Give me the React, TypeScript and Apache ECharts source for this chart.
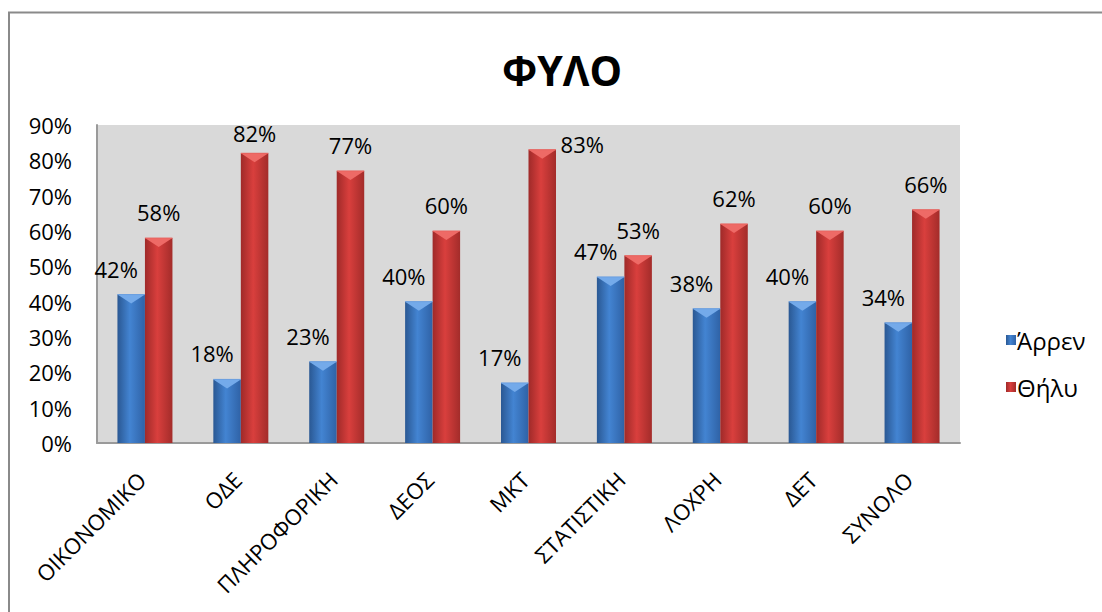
import React, { useEffect, useRef } from "react";
import * as echarts from "echarts";

const categories = ["ΟΙΚΟΝΟΜΙΚΟ", "ΟΔΕ", "ΠΛΗΡΟΦΟΡΙΚΗ", "ΔΕΟΣ", "ΜΚΤ", "ΣΤΑΤΙΣΤΙΚΗ", "ΛΟΧΡΗ", "ΔΕΤ", "ΣΥΝΟΛΟ"];
const maleValues = [42, 18, 23, 40, 17, 47, 38, 40, 34];
const femaleValues = [58, 82, 77, 60, 83, 53, 62, 60, 66];
const seriesNames = ["Άρρεν", "Θήλυ"];
const titleText = "ΦΥΛΟ";
const yMax = 90;
const yStep = 10;

const FONT = "'Open Sans', 'Noto Sans', sans-serif";
const FS = 22;
const BAR_W = 27.5;

const blueGrad = new echarts.graphic.LinearGradient(0, 0, 1, 0, [
  { offset: 0, color: "#2a5893" },
  { offset: 0.45, color: "#4384d2" },
  { offset: 1, color: "#2f62a6" },
]);
const redGrad = new echarts.graphic.LinearGradient(0, 0, 1, 0, [
  { offset: 0, color: "#9f2a29" },
  { offset: 0.45, color: "#d93f3d" },
  { offset: 1, color: "#a32c2a" },
]);

function bevel(side: number, light: string, dark: string) {
  return (params: any, api: any) => {
    const p = api.coord([api.value(0), api.value(1)]);
    const l = p[0] + (side === 0 ? -BAR_W : 0);
    const t = p[1];
    const w = BAR_W;
    return {
      type: "group",
      children: [
        {
          type: "polygon",
          shape: { points: [[l, t], [l + w, t], [l + w / 2, t + 9]] },
          style: { fill: light },
        },
        {
          type: "line",
          shape: { x1: l, y1: t, x2: l + w, y2: t },
          style: { stroke: dark, lineWidth: 1 },
        },
      ],
    };
  };
}

export default function App() {
  const ref = useRef<HTMLDivElement>(null);
  useEffect(() => {
    if (!ref.current) return;
    const chart = echarts.init(ref.current, null, { renderer: "svg" });
    const labelBase = {
      show: true,
      position: "top" as const,
      distance: 5,
      fontSize: FS,
      lineHeight: 22,
      fontFamily: FONT,
      color: "#000",
      formatter: "{c}%",
    };
    const femaleData = femaleValues.map((v, i) => {
      if (i === 4) return { value: v, label: { offset: [40, 10] } };
      if (i === 1) return { value: v, label: { offset: [0, -4] } };
      return v;
    });
    chart.setOption({
      animation: false,
      backgroundColor: "#fff",
      title: {
        text: titleText,
        left: 557,
        top: 44,
        textAlign: "center",
        textStyle: { fontSize: 41, fontWeight: "bold", fontFamily: FONT, color: "#000", lineHeight: 41 },
      },
      legend: {
        data: seriesNames,
        orient: "vertical",
        left: 1001,
        top: 323,
        itemWidth: 10,
        itemHeight: 10,
        itemGap: 23,
        icon: "rect",
        textStyle: { fontSize: 24, lineHeight: 24, fontFamily: FONT, color: "#000", padding: [0, 0, 0, -4] },
      },
      grid: {
        left: 97,
        right: 142,
        top: 125,
        bottom: 169,
        show: true,
        backgroundColor: "#d9d9d9",
        borderWidth: 0,
      },
      xAxis: {
        type: "category",
        data: categories,
        axisLine: { show: true, lineStyle: { color: "#9a9a9a", width: 2 } },
        axisTick: { show: false },
        axisLabel: {
          rotate: 45,
          interval: 0,
          margin: 29,
          padding: [0, 5, 0, 0],
          fontSize: FS,
          fontFamily: FONT,
          color: "#000",
        },
      },
      yAxis: {
        type: "value",
        min: 0,
        max: yMax,
        interval: yStep,
        axisLine: { show: true, lineStyle: { color: "#9a9a9a", width: 2 } },
        axisTick: { show: false },
        splitLine: { show: false },
        axisLabel: { formatter: "{value}%", fontSize: FS, fontFamily: FONT, color: "#000", margin: 25 },
      },
      graphic: [
        {
          type: "rect",
          shape: { x: 9, y: 12.5, width: 1200, height: 800 },
          style: { fill: "none", stroke: "#8a8a8a", lineWidth: 2 },
          silent: true,
          z: 100,
        },
      ],
      series: [
        {
          name: seriesNames[0],
          type: "bar",
          data: maleValues,
          barWidth: BAR_W,
          barGap: "0%",
          itemStyle: { color: blueGrad },
          label: { ...labelBase, offset: [-15, -10] },
        },
        {
          name: seriesNames[1],
          type: "bar",
          data: femaleData,
          barWidth: BAR_W,
          barGap: "0%",
          itemStyle: { color: redGrad },
          label: { ...labelBase, offset: [0, -10] },
        },
        {
          type: "custom",
          silent: true,
          z: 3,
          renderItem: bevel(0, "#74aaea", "#6b9fe0"),
          data: maleValues.map((v, i) => [i, v]),
          encode: { x: 0, y: 1 },
        },
        {
          type: "custom",
          silent: true,
          z: 3,
          renderItem: bevel(1, "#ee6a66", "#e86460"),
          data: femaleValues.map((v, i) => [i, v]),
          encode: { x: 0, y: 1 },
        },
      ],
    });
    return () => chart.dispose();
  }, []);
  return (
    <div
      ref={ref}
      style={{ position: "absolute", left: 0, top: 0, width: 1102, height: 612 }}
    />
  );
}
